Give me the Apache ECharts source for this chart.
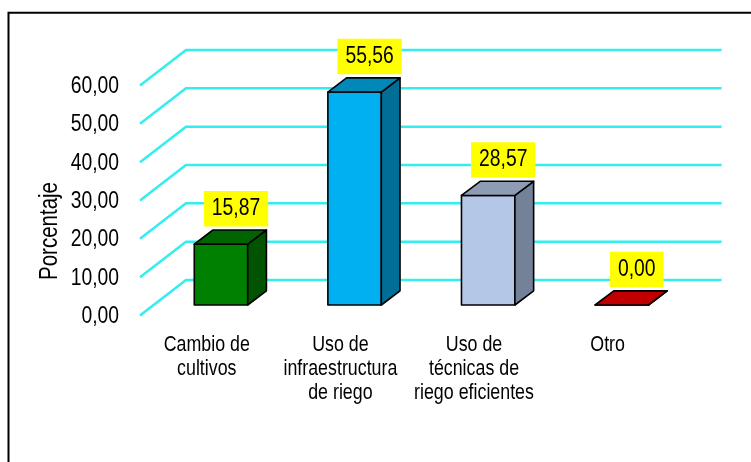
<!DOCTYPE html>
<html>
<head>
<meta charset="utf-8">
<script src="https://cdn.jsdelivr.net/npm/echarts@6/dist/echarts.min.js"></script>
<style>html,body{margin:0;padding:0;background:#fff}#c{width:751px;height:462px}</style>
</head>
<body>
<div id="c"></div>
<script>
const categories = ['Cambio de\ncultivos', 'Uso de\ninfraestructura\nde riego', 'Uso de\ntécnicas de\nriego eficientes', 'Otro'];
const values = [15.87, 55.56, 28.57, 0.00];
const yTicks = [0, 10, 20, 30, 40, 50, 60];
const axisTitle = 'Porcentaje';

const barColors = [
  {front: '#008000', top: '#006400', side: '#005300'},
  {front: '#00B0F0', top: '#0088B8', side: '#006E97'},
  {front: '#B4C7E7', top: '#8D9BB3', side: '#748299'},
  {front: '#C00000', top: '#C00000', side: '#900000'}
];
const FONT = "'Liberation Sans', Arial, sans-serif";
const SX = 0.84;
const fmt = v => v.toFixed(2).replace('.', ',');
// front-plane and back-wall offsets relative to the bar base plane
const FRONT = [-14.2, 10.5], BACK = [31.8, -25];

function renderGrid(params, api) {
  const v = api.value(1);
  const cs = params.coordSys;
  const y = api.coord([0, v])[1];
  return {
    type: 'group',
    children: [
      {type: 'polyline',
        shape: {points: [[cs.x + FRONT[0], y + FRONT[1]], [cs.x + BACK[0], y + BACK[1]], [cs.x + cs.width + 33, y + BACK[1]]]},
        style: {stroke: '#33EEEE', lineWidth: 2.5, fill: null}},
      {type: 'text', x: cs.x + FRONT[0] - 21, y: y + FRONT[1] + 1, scaleX: SX,
        style: {text: fmt(v), fill: '#000', font: '23px ' + FONT, align: 'right', verticalAlign: 'middle'}}
    ]
  };
}

function renderCat(params, api) {
  const i = api.value(0);
  const p = api.coord([i, 0]);
  return {
    type: 'text', x: p[0] + FRONT[0], y: p[1] + FRONT[1] + 17.5, scaleX: 0.81,
    style: {text: categories[i], fill: '#000', font: '22px ' + FONT, lineHeight: 24, align: 'center', verticalAlign: 'top'}
  };
}

function renderBar(params, api) {
  const i = api.value(0), v = api.value(1);
  const base = api.coord([i, 0]);
  const top = api.coord([i, v]);
  const bw = api.size([1, 0])[0] * 0.4;
  const dx = bw * 0.35, dy = -bw * 0.265;
  const xl = base[0] - bw / 2, xr = base[0] + bw / 2, yb = base[1], yt = top[1];
  const c = barColors[params.dataIndex];
  const ln = {stroke: '#000', lineWidth: 1.6, lineJoin: 'round'};
  return {
    type: 'group',
    children: [
      {type: 'polygon', shape: {points: [[xl, yt], [xr, yt], [xr, yb], [xl, yb]]}, style: Object.assign({fill: c.front}, ln)},
      {type: 'polygon', shape: {points: [[xr, yt], [xr + dx, yt + dy], [xr + dx, yb + dy], [xr, yb]]}, style: Object.assign({fill: c.side}, ln)},
      {type: 'polygon', shape: {points: [[xl, yt], [xl + dx, yt + dy], [xr + dx, yt + dy], [xr, yt]]}, style: Object.assign({fill: c.top}, ln)},
      {type: 'text', x: base[0] + 15, y: yt + dy - 3.5, scaleX: SX,
        style: {text: fmt(v), fill: '#000', font: '23px ' + FONT, align: 'center', verticalAlign: 'bottom',
          backgroundColor: '#FFFF00', padding: [5, 9.5, 5, 9.5], lineHeight: 25.5}}
    ]
  };
}

const chart = echarts.init(document.getElementById('c'));
chart.setOption({
  animation: false,
  backgroundColor: '#fff',
  grid: {left: 154.2, right: 62.4, top: 75, bottom: 157},
  xAxis: {type: 'category', data: categories, show: false},
  yAxis: {type: 'value', min: 0, max: 60, interval: 10, show: false},
  graphic: [
    {type: 'rect', shape: {x: 8.5, y: 12.7, width: 800, height: 500}, style: {fill: 'none', stroke: '#000', lineWidth: 2}, z: 0},
    {type: 'text', x: 50, y: 231, rotation: Math.PI / 2, scaleX: 0.82,
      style: {text: axisTitle, fill: '#000', font: '25px ' + FONT, align: 'center', verticalAlign: 'middle'}}
  ],
  series: [
    {type: 'custom', z: 1, renderItem: renderGrid, data: yTicks.map(v => [0, v]), silent: true},
    {type: 'custom', z: 2, renderItem: renderBar, data: values.map((v, i) => [i, v]), silent: true},
    {type: 'custom', z: 3, renderItem: renderCat, data: categories.map((c, i) => [i, 0]), silent: true}
  ]
});
</script>
</body>
</html>
